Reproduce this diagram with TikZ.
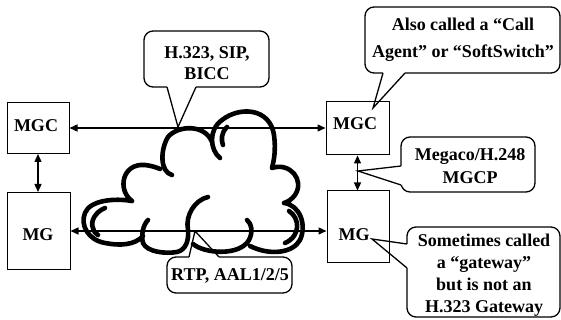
\documentclass[tikz,border=0pt]{standalone}
\usepackage{fontspec}
\setmainfont{Liberation Serif}
\usetikzlibrary{arrows.meta}
\begin{document}
\begin{tikzpicture}[x=1pt,y=-1pt,
  box/.style={draw, line width=1pt, inner sep=0pt},
  lbl/.style={font=\fontsize{18}{21}\selectfont\bfseries, inner sep=0pt, align=center},
  link/.style={line width=1.3pt, {Triangle[length=8pt,width=7pt]}-{Triangle[length=8pt,width=7pt]}},
  cbox/.style={draw, line width=1.3pt, rounded corners=9pt, fill=white},
  cptr/.style={line width=1.3pt, line join=miter},
  cgap/.style={white, line width=2.2pt},
  cloudline/.style={line width=4.6pt, line cap=round, line join=round}]

\useasboundingbox (0,0) rectangle (561,320);

% boxes
\node[box, minimum width=62pt, minimum height=51pt] (mgcL) at (38,128) {};
\node[box, minimum width=63pt, minimum height=53pt] (mgcR) at (357.5,128.5) {};
\node[box, minimum width=63pt, minimum height=77pt] (mgL) at (38.5,231) {};
\node[box, minimum width=62pt, minimum height=71pt] (mgR) at (358,226.5) {};

\node[lbl] (tMgcL) at (36,126) {MGC};
\node[lbl] (tMgcR) at (355,124) {MGC};
\node[lbl] (tMgL) at (38,235) {MG};
\node[lbl] (tMgR) at (354,235) {MG};

% connectors
\draw[link] (mgcL.east) -- (mgcL.east -| mgcR.west);
\draw[link] (mgL.east) -- (mgL.east -| mgR.west);
\draw[link] (mgcL.south) -- (mgcL.south |- mgL.north);
\draw[link] (mgcR.south) -- (mgcR.south |- mgR.north);

% cloud
\draw[cloudline]
 % left-upper bump
 (132,201) .. controls (117,190) and (122,163) .. (145,165) .. controls (153,166) and (158,168) .. (160,169)
 % top-left bump
 (172,175) .. controls (160,172) and (160,150) .. (168,137) .. controls (178,125) and (205,124) .. (212,142)
 % top-right bump
 (220,158) .. controls (210,150) and (208,130) .. (222,120) .. controls (240,106) and (270,108) .. (274,135) .. controls (276,150) and (274,160) .. (272,168)
 (227,127) .. controls (221,133) and (221,140) .. (223,145)
 % right lobe
 (272,168) .. controls (290,162) and (305,180) .. (295,195) .. controls (292,199) and (288,202) .. (284,203)
 % lower-right lobe
 (284,203) .. controls (300,205) and (307,225) .. (300,240) .. controls (293,253) and (270,256) .. (250,246)
 (289,211) .. controls (300,218) and (301,236) .. (285,243)
 % bottom bump with hook
 (193,244) .. controls (205,254) and (240,256) .. (249,240) .. controls (253,232) and (252,224) .. (247,220)
 % inner stroke and bottom bump
 (208,197) .. controls (195,200) and (185,215) .. (188,230) .. controls (189,240) and (186,250) .. (177,252) .. controls (165,254) and (147,252) .. (143,243) .. controls (141,235) and (143,225) .. (148,220)
 % left lobe
 (143,236) .. controls (135,245) and (120,246) .. (105,243) .. controls (88,240) and (80,225) .. (85,213) .. controls (90,200) and (115,198) .. (132,201)
 (105,208) .. controls (95,212) and (90,222) .. (93,228) .. controls (94,232) and (96,234) .. (98,235);

% pointer tips
\coordinate (tipH) at (178,127);
\coordinate (tipA) at (373,108);
\coordinate (tipM) at (358,171);
\coordinate (tipS) at (372,239);
\coordinate (tipR) at (195,231);

% callout: H.323
\draw[cbox] (144,31) rectangle (269,87);
\draw[cgap] (167,87) -- (196,87);
\draw[cptr] (167,87) -- (tipH) -- (196,87);
\node[lbl] (tH) at (207,63) {H.323, SIP,\\BICC};

% callout: Also called
\draw[cbox] (365,7) rectangle (560,73);
\draw[cgap] (383,73) -- (405,73);
\draw[cptr] (383,73) -- (tipA) -- (405,73);
\node[lbl, font=\fontsize{18}{27}\selectfont\bfseries] (tA) at (463,40) {Also called a “Call\\Agent” or “SoftSwitch”};

% callout: Megaco
\draw[cbox] (401,137) rectangle (535,192);
\draw[cgap] (401,166) -- (401,185);
\draw[cptr] (401,166) -- (tipM) -- (401,185);
\node[lbl, font=\fontsize{18}{23}\selectfont\bfseries] (tM) at (470,166) {Megaco/H.248\\MGCP};

% callout: Sometimes
\draw[cbox] (407,227) rectangle (560,317);
\draw[cgap] (407,244) -- (407,268);
\draw[cptr] (407,244) -- (tipS) -- (407,268);
\node[lbl, font=\fontsize{18}{22}\selectfont\bfseries] (tS) at (484,275) {Sometimes called\\a “gateway”\\but is not an\\H.323 Gateway};

% callout: RTP
\draw[cbox] (167,257) rectangle (292,293);
\draw[cgap] (189,257) -- (219,257);
\draw[cptr] (189,257) -- (tipR) -- (219,257);
\node[lbl] (tR) at (230,276) {RTP, AAL1/2/5};
\end{tikzpicture}
\end{document}
